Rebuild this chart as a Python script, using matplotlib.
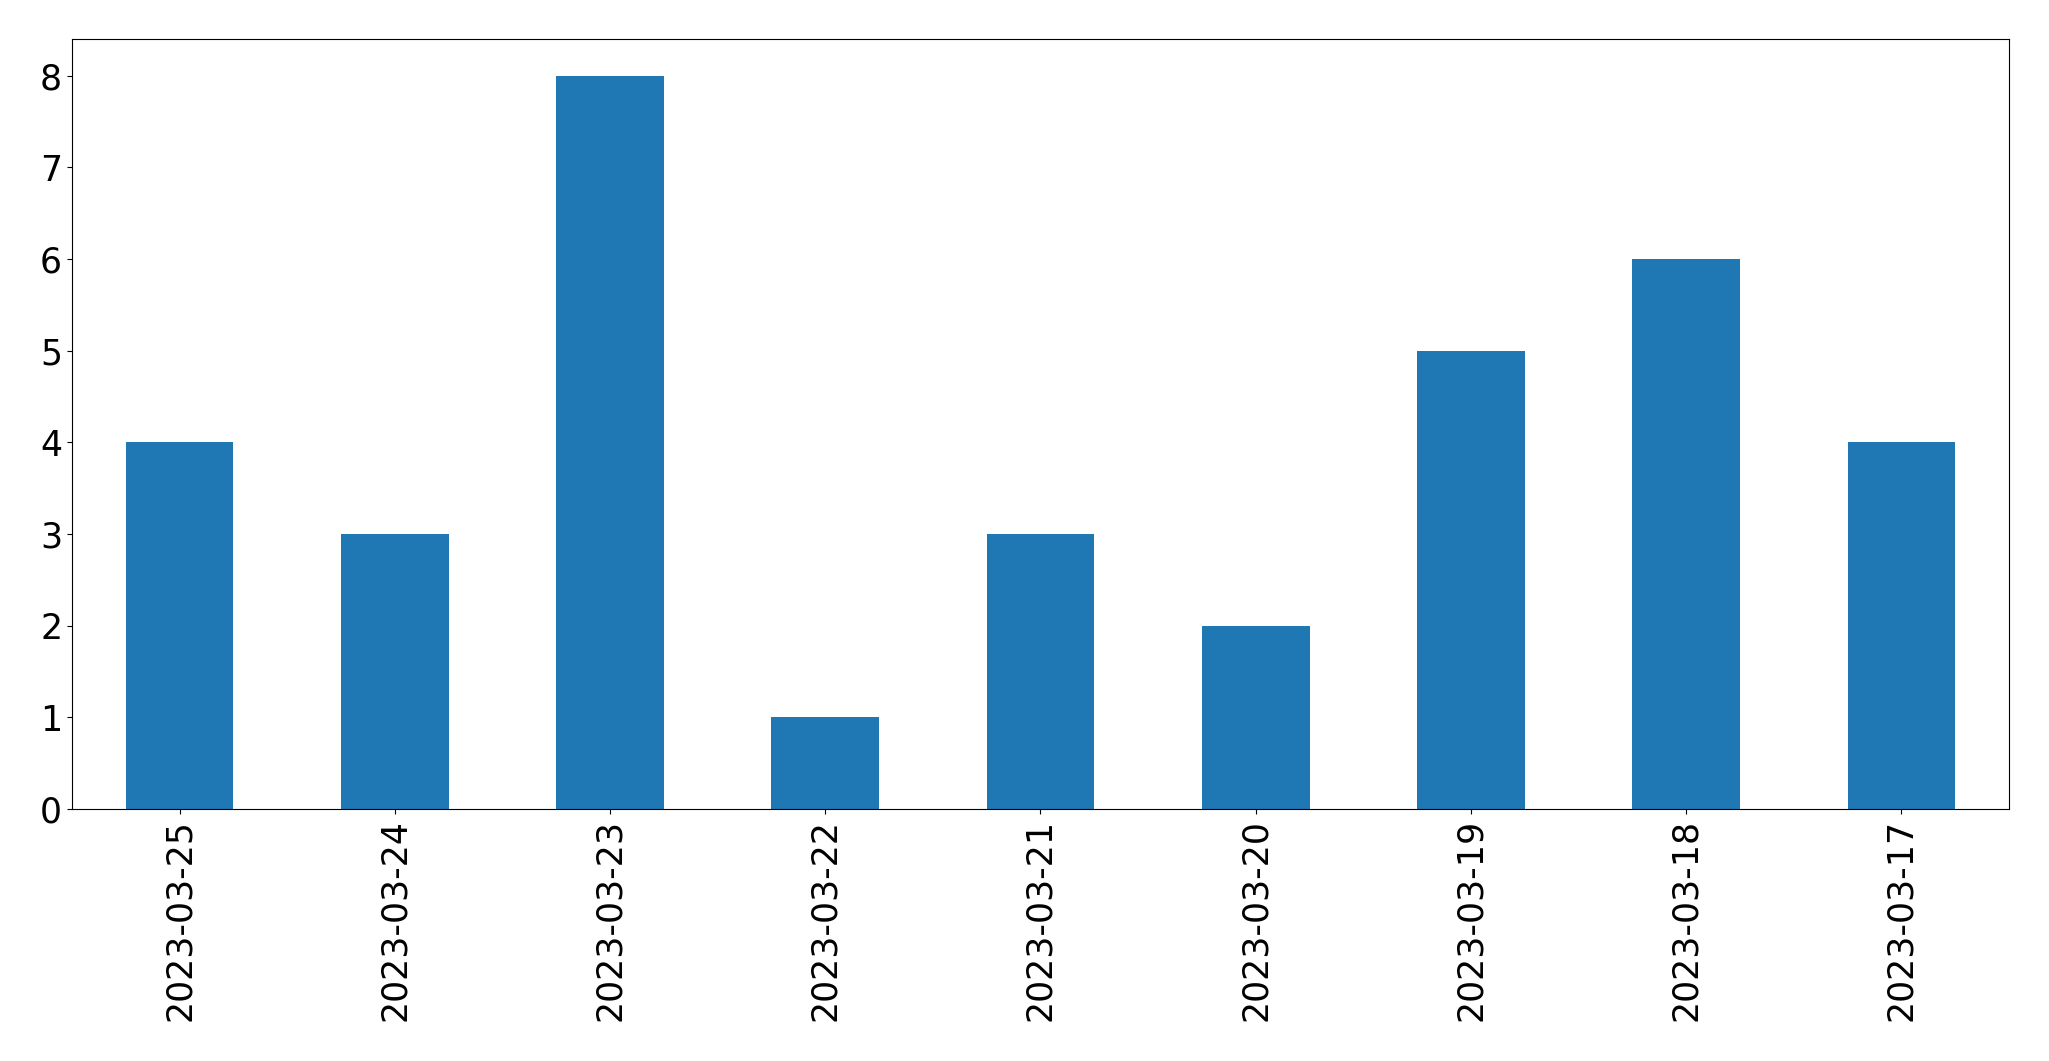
import matplotlib
matplotlib.use("Agg")
import matplotlib.pyplot as plt
import numpy as np

dates = ["2023-03-25", "2023-03-24", "2023-03-23", "2023-03-22", "2023-03-21",
         "2023-03-20", "2023-03-19", "2023-03-18", "2023-03-17"]
counts = [4, 3, 8, 1, 3, 2, 5, 6, 4]

fig, ax = plt.subplots(figsize=(20.49, 10.61), dpi=100)
xs = np.arange(len(dates))
ax.bar(xs, counts, width=0.5, color="#1f77b4")
ax.set_xlim(-0.5, len(dates) - 0.5)
ax.set_xticks(xs)
ax.set_xticklabels(dates, rotation=90)
ax.tick_params(labelsize=25)
fig.subplots_adjust(left=0.0351, right=0.9805, top=0.9632, bottom=0.2375)
fig.savefig("out.png", dpi=100)
